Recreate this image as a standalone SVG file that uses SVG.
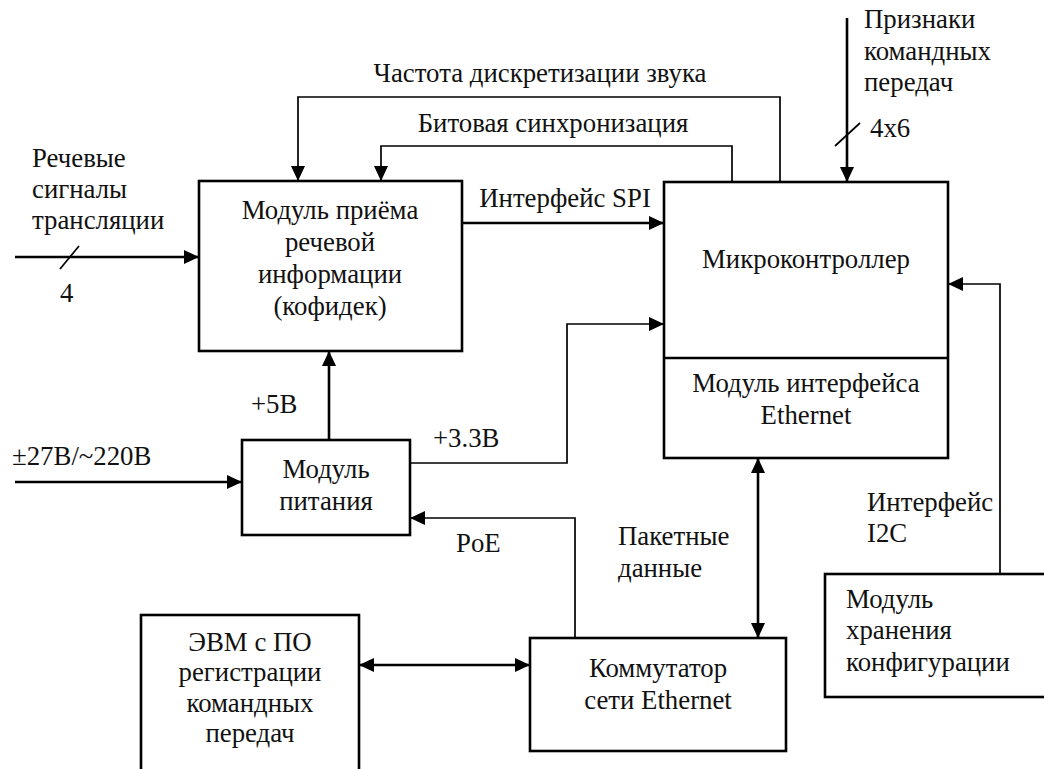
<svg xmlns="http://www.w3.org/2000/svg" width="1044" height="769" viewBox="0 0 1044 769">
<defs>
<style>
text{font-family:"Liberation Serif",Tinos,"DejaVu Serif",serif;font-size:26.8px;fill:#111}
.c{text-anchor:middle}
.box{fill:#fff;stroke:#000;stroke-width:2.6}
.w{fill:none;stroke:#000;stroke-width:2.6}
.t{fill:none;stroke:#000;stroke-width:1.7}
</style>
<marker id="a" markerUnits="userSpaceOnUse" markerWidth="16" markerHeight="14" refX="15" refY="7" orient="auto-start-reverse">
<path d="M0,0 L15,7 L0,14 z" fill="#000"/>
</marker>
</defs>
<rect width="1044" height="769" fill="#fff"/>
<g id="connectors">
<path class="w" d="M15,257 H199" marker-end="url(#a)"/>
<path class="t" d="M60,269 L79,246"/>
<path class="w" d="M15,482 H242" marker-end="url(#a)"/>
<path class="w" d="M329,440 V351" marker-end="url(#a)"/>
<path class="w" d="M462,223 H664" marker-end="url(#a)"/>
<path class="t" d="M410,463 H567 V324 H664" marker-end="url(#a)"/>
<path class="t" d="M575,638 V518 H410" marker-end="url(#a)"/>
<path class="w" d="M359,665 H530" marker-start="url(#a)" marker-end="url(#a)"/>
<path class="w" d="M758,458 V638" marker-start="url(#a)" marker-end="url(#a)"/>
<path class="t" d="M1000,574 V284 H948" marker-end="url(#a)"/>
<path class="w" d="M847,18 V182" marker-end="url(#a)"/>
<path class="t" d="M835,146 L860,123"/>
<path class="t" d="M780,182 V97 H298 V181" marker-end="url(#a)"/>
<path class="t" d="M732,182 V146 H381 V181" marker-end="url(#a)"/>
<text x="32" y="167">Речевые</text>
<text x="32" y="198">сигналы</text>
<text x="32" y="229">трансляции</text>
<text x="60" y="302">4</text>
<text x="12" y="465">±27В/~220В</text>
<text x="251" y="413">+5В</text>
<text x="565" y="207" class="c">Интерфейс SPI</text>
<text x="433" y="447">+3.3В</text>
<text x="456" y="552">PoE</text>
<text x="618" y="545">Пакетные</text>
<text x="618" y="577">данные</text>
<text x="867" y="511">Интерфейс</text>
<text x="867" y="542">I2C</text>
<text x="864" y="28">Признаки</text>
<text x="864" y="60">командных</text>
<text x="864" y="91">передач</text>
<text x="870" y="137">4x6</text>
<text x="540" y="82" class="c">Частота дискретизации звука</text>
<text x="553" y="132" class="c">Битовая синхронизация</text>
</g>
<g id="codec">
<rect class="box" x="199" y="181" width="263" height="170"/>
<text x="330" y="219" class="c">Модуль приёма</text>
<text x="330" y="251" class="c">речевой</text>
<text x="330" y="283" class="c">информации</text>
<text x="330" y="315" class="c">(кофидек)</text>
</g>
<g id="mcu">
<rect class="box" x="664" y="182" width="284" height="276"/>
<line x1="664" y1="358" x2="948" y2="358" stroke="#000" stroke-width="2.6"/>
<text x="806" y="268" class="c">Микроконтроллер</text>
<text x="806" y="392" class="c">Модуль интерфейса</text>
<text x="806" y="424" class="c">Ethernet</text>
</g>
<g id="power">
<rect class="box" x="242" y="440" width="168" height="95"/>
<text x="326" y="478" class="c">Модуль</text>
<text x="326" y="510" class="c">питания</text>
</g>
<g id="evm">
<rect class="box" x="141" y="615" width="218" height="175"/>
<text x="250" y="651" class="c">ЭВМ с ПО</text>
<text x="250" y="681" class="c">регистрации</text>
<text x="250" y="712" class="c">командных</text>
<text x="250" y="742" class="c">передач</text>
</g>
<g id="switch">
<rect class="box" x="530" y="638" width="256" height="113"/>
<text x="658" y="677" class="c">Коммутатор</text>
<text x="658" y="709" class="c">сети Ethernet</text>
</g>
<g id="config">
<rect class="box" x="825" y="574" width="240" height="123"/>
<text x="846" y="608">Модуль</text>
<text x="846" y="639">хранения</text>
<text x="846" y="671">конфигурации</text>
</g>
</svg>
